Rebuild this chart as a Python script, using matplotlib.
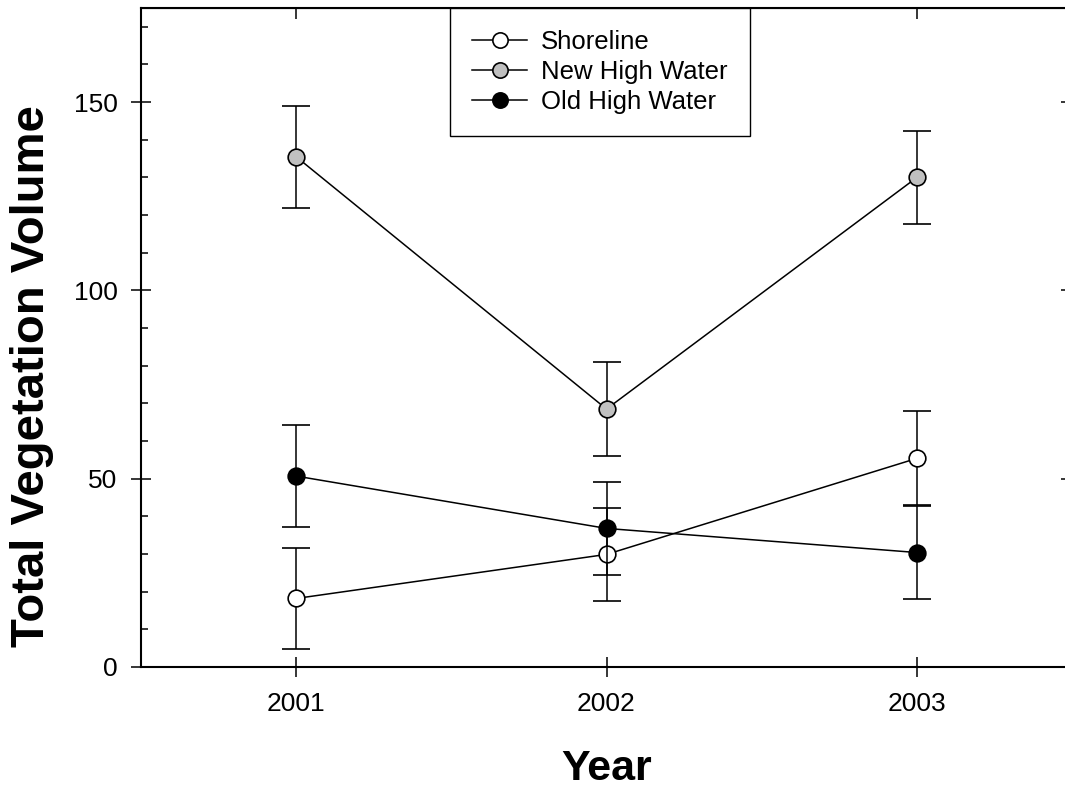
import matplotlib
matplotlib.use("Agg")
import matplotlib.pyplot as plt
from matplotlib.ticker import MultipleLocator
from matplotlib.lines import Line2D

plt.rcParams['font.family'] = ['Liberation Sans', 'DejaVu Sans']

years = [2001, 2002, 2003]

shore = [18.2, 29.9, 55.4]
shore_err = [13.4, 12.3, 12.5]

new_hw = [135.5, 68.5, 130.0]
new_hw_err = [13.5, 12.4, 12.4]

old_hw = [50.7, 36.8, 30.4]
old_hw_err = [13.5, 12.4, 12.4]

series = [
    ("Shoreline", shore, shore_err, "white"),
    ("New High Water", new_hw, new_hw_err, "#c0c0c0"),
    ("Old High Water", old_hw, old_hw_err, "black"),
]

fig = plt.figure(figsize=(10.65, 7.87), dpi=100)
# axes right edge runs past the image edge (as in the original)
ax = fig.add_axes([141/1065, 120/787, 931/1065, 659/787])

handles = []
for i, (name, vals, err, fc) in enumerate(series):
    ax.errorbar(years, vals, yerr=err, color="black", lw=1.1,
                marker="o", ms=12, mfc=fc, mec="black", mew=1.2,
                ecolor="black", elinewidth=1.1, capsize=10, capthick=1.1,
                zorder=3 + i)
    handles.append(Line2D([], [], color="black", lw=1.1, marker="o", ms=11,
                          mfc=fc, mec="black", mew=1.2, label=name))

ax.set_xlim(2000.5, 2003.5)
ax.set_ylim(0, 175)
ax.set_xticks(years)
ax.set_yticks([0, 50, 100, 150])
ax.yaxis.set_minor_locator(MultipleLocator(10))

for s in ax.spines.values():
    s.set_linewidth(1.5)

ax.tick_params(axis="both", which="major", direction="inout", length=14,
               width=1.1, labelsize=19)
ax.tick_params(axis="x", which="major", pad=11)
ax.tick_params(axis="y", which="major", pad=10)
ax.tick_params(axis="y", which="minor", direction="in", length=5, width=1.1)
ax.tick_params(axis="x", which="minor", bottom=False)

top = ax.secondary_xaxis("top")
top.set_xticks(years)
top.tick_params(direction="in", length=8, width=1.1, labeltop=False)
right = ax.secondary_yaxis("right")
right.set_yticks([0, 50, 100, 150])
right.tick_params(direction="in", length=8, width=1.1, labelright=False)

ax.set_ylabel("Total Vegetation Volume", fontsize=34, fontweight="bold")
ax.set_xlabel("Year", fontsize=31, fontweight="bold")
ax.yaxis.set_label_coords(-0.0935, 0.4416)
ax.xaxis.set_label_coords(0.5, -0.1244)

leg = ax.legend(handles=handles, loc="upper left", bbox_to_anchor=(0.332, 1.0),
                borderaxespad=0, fontsize=18.5, fancybox=False, framealpha=1,
                edgecolor="black", handlelength=2.15, handletextpad=0.55,
                labelspacing=0.23, borderpad=0.85)
leg.get_frame().set_linewidth(1.0)

fig.savefig("out.png", dpi=100)
